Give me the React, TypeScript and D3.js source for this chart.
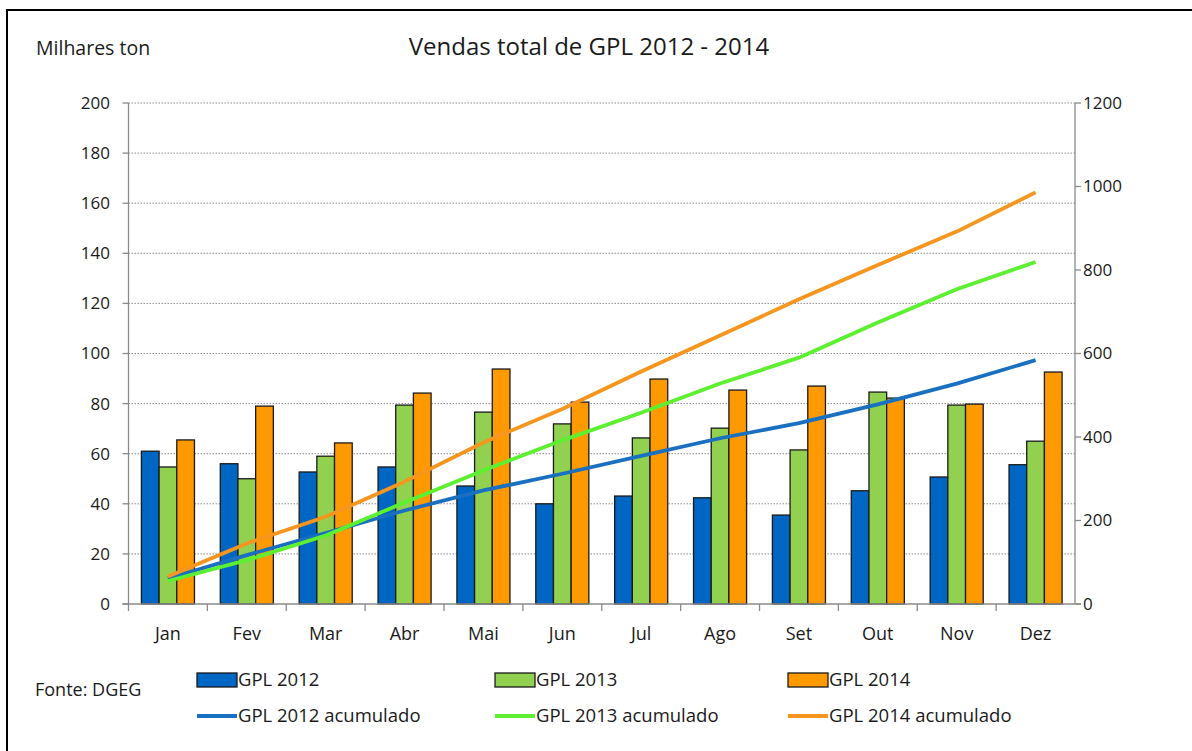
import React, { useEffect, useRef } from 'react';
import * as d3 from 'd3';

const months = ['Jan', 'Fev', 'Mar', 'Abr', 'Mai', 'Jun', 'Jul', 'Ago', 'Set', 'Out', 'Nov', 'Dez'];

// monthly sales, thousand tonnes (left axis)
const gpl2012 = [61, 56, 52.7, 54.7, 47.1, 40, 43.1, 42.4, 35.5, 45.2, 50.7, 55.6];
const gpl2013 = [54.7, 50, 59, 79.4, 76.6, 71.9, 66.3, 70.2, 61.5, 84.6, 79.4, 65];
const gpl2014 = [65.5, 79, 64.3, 84.2, 93.8, 80.6, 89.8, 85.4, 87, 82.2, 79.8, 92.6];

// cumulative sales (right axis)
const cum2012 = [61, 117, 170, 224, 272, 312, 355, 397, 433, 478, 528, 584];
const cum2013 = [55, 105, 164, 243, 320, 392, 458, 528, 590, 674, 754, 819];
const cum2014 = [66, 145, 209, 293, 387, 467, 557, 643, 730, 812, 892, 986];

const leftTicks = [0, 20, 40, 60, 80, 100, 120, 140, 160, 180, 200];
const rightTicks = [0, 200, 400, 600, 800, 1000, 1200];

const barSeries = [
  { name: 'GPL 2012', values: gpl2012, color: '#0066c4' },
  { name: 'GPL 2013', values: gpl2013, color: '#92d050' },
  { name: 'GPL 2014', values: gpl2014, color: '#ff9900' },
];
const lineSeries = [
  { name: 'GPL 2012 acumulado', values: cum2012, color: '#1a70c0' },
  { name: 'GPL 2013 acumulado', values: cum2013, color: '#5cf030' },
  { name: 'GPL 2014 acumulado', values: cum2014, color: '#f7961e' },
];

const FONT = "'Open Sans', sans-serif";

export default function App() {
  const ref = useRef<SVGSVGElement>(null);

  useEffect(() => {
    if (!ref.current) return;
    const svg = d3.select(ref.current);
    svg.selectAll('*').remove();

    const left = 128.5, right = 1075, top = 103, bottom = 604;

    const x = d3.scaleBand().domain(months).range([left, right]);
    const xs = d3.scaleBand().domain(barSeries.map((s) => s.name))
      .range([0, x.bandwidth()]).paddingInner(0).paddingOuter(0.73);
    const y = d3.scaleLinear().domain([0, 200]).range([bottom, top]);
    const y2 = d3.scaleLinear().domain([0, 1200]).range([bottom, top]);

    svg.append('rect').attr('width', 1192).attr('height', 751).attr('fill', '#fff');
    // chart border
    svg.append('rect')
      .attr('x', 7).attr('y', 10).attr('width', 1200).attr('height', 760)
      .attr('fill', 'none').attr('stroke', '#000').attr('stroke-width', 2);

    // gridlines
    svg.append('g').selectAll('line')
      .data(leftTicks.filter((t) => t > 0))
      .join('line')
      .attr('x1', left).attr('x2', right)
      .attr('y1', (d) => y(d)).attr('y2', (d) => y(d))
      .attr('stroke', '#8c8c8c').attr('stroke-width', 1)
      .attr('stroke-dasharray', '1.5,1.5');

    // bars
    const g = svg.append('g');
    barSeries.forEach((s) => {
      g.append('g').selectAll('rect')
        .data(s.values)
        .join('rect')
        .attr('x', (_, i) => x(months[i])! + xs(s.name)!)
        .attr('y', (d) => y(d))
        .attr('width', xs.bandwidth())
        .attr('height', (d) => y(0) - y(d))
        .attr('fill', s.color)
        .attr('stroke', '#1a1a1a')
        .attr('stroke-width', 1.3);
    });

    // axes
    const ax = svg.append('g').attr('stroke', '#8a8a8a').attr('stroke-width', 1.3);
    ax.append('line').attr('x1', left).attr('x2', left).attr('y1', top).attr('y2', bottom);
    ax.append('line').attr('x1', right).attr('x2', right).attr('y1', top).attr('y2', bottom);
    ax.append('line').attr('x1', left - 6).attr('x2', right + 6).attr('y1', bottom).attr('y2', bottom);
    ax.selectAll('.lt').data(leftTicks).join('line')
      .attr('x1', left - 6).attr('x2', left).attr('y1', (d) => y(d)).attr('y2', (d) => y(d));
    ax.selectAll('.rt').data(rightTicks).join('line')
      .attr('x1', right).attr('x2', right + 6).attr('y1', (d) => y2(d)).attr('y2', (d) => y2(d));
    ax.selectAll('.ct').data(months).join('line')
      .attr('x1', (d) => x(d)!).attr('x2', (d) => x(d)!)
      .attr('y1', bottom).attr('y2', bottom + 7);

    // lines
    const line = d3.line<number>()
      .x((_, i) => x(months[i])! + x.bandwidth() / 2)
      .y((d) => y2(d));
    lineSeries.forEach((s) => {
      svg.append('path')
        .datum(s.values)
        .attr('d', line)
        .attr('fill', 'none')
        .attr('stroke', s.color)
        .attr('stroke-width', 3.8)
        .attr('stroke-linejoin', 'round');
    });

    const txt = svg.append('g').attr('font-family', FONT).attr('fill', '#1a1a1a');

    txt.selectAll('.ll').data(leftTicks).join('text')
      .attr('x', 110).attr('y', (d) => y(d)).attr('dy', '0.35em')
      .attr('text-anchor', 'end').attr('font-size', 17).text((d) => d);
    txt.selectAll('.rl').data(rightTicks).join('text')
      .attr('x', 1083).attr('y', (d) => y2(d)).attr('dy', '0.35em')
      .attr('text-anchor', 'start').attr('font-size', 17).text((d) => d);
    txt.selectAll('.ml').data(months).join('text')
      .attr('x', (d) => x(d)! + x.bandwidth() / 2).attr('y', 634).attr('dy', '0.35em')
      .attr('text-anchor', 'middle').attr('font-size', 18).text((d) => d);

    txt.append('text').attr('x', 36).attr('y', 48).attr('dy', '0.35em')
      .attr('font-size', 19.5).text('Milhares ton');
    txt.append('text').attr('x', 589).attr('y', 47).attr('dy', '0.35em')
      .attr('text-anchor', 'middle').attr('font-size', 24).text('Vendas total de GPL 2012 - 2014');
    txt.append('text').attr('x', 35).attr('y', 690).attr('dy', '0.35em')
      .attr('font-size', 18).text('Fonte: DGEG');

    // legend
    const legX = [197, 495, 788];
    barSeries.forEach((s, i) => {
      svg.append('rect')
        .attr('x', legX[i]).attr('y', 673).attr('width', 40).attr('height', 14)
        .attr('fill', s.color).attr('stroke', '#1a1a1a').attr('stroke-width', 1.3);
      txt.append('text').attr('x', legX[i] + 41).attr('y', 680).attr('dy', '0.35em')
        .attr('font-size', 18.5).text(s.name);
    });
    lineSeries.forEach((s, i) => {
      svg.append('line')
        .attr('x1', legX[i]).attr('x2', legX[i] + 40).attr('y1', 716).attr('y2', 716)
        .attr('stroke', s.color).attr('stroke-width', 3.8);
      txt.append('text').attr('x', legX[i] + 41).attr('y', 716).attr('dy', '0.35em')
        .attr('font-size', 18.5).text(s.name);
    });
  }, []);

  return (
    <svg
      ref={ref}
      width={1192}
      height={751}
      style={{ position: 'absolute', left: 0, top: 0, display: 'block' }}
    />
  );
}
